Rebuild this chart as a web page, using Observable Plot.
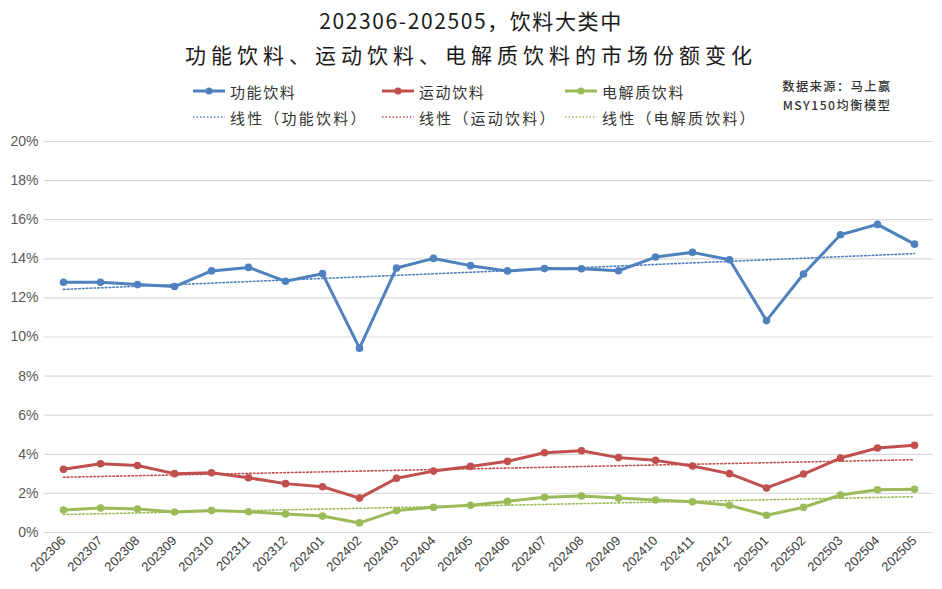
<!DOCTYPE html>
<html>
<head>
<meta charset="utf-8">
<script src="https://cdn.jsdelivr.net/npm/d3@7"></script>
<script src="https://cdn.jsdelivr.net/npm/@observablehq/plot@0.6"></script>
<style>
  html, body { margin: 0; padding: 0; background: #fff; }
  #wrap { width: 942px; height: 589px; position: relative; overflow: hidden; }
  #header { position: relative; width: 942px; height: 128px; font-family: "Noto Sans CJK SC", "Noto Sans", sans-serif; }
  .t { position: absolute; left: 0; width: 942px; text-align: center; color: #1a1a1a; white-space: nowrap; }
  .leg { position: absolute; display: flex; align-items: center; font-size: 15px; letter-spacing: 1.6px; color: #333; white-space: nowrap; height: 20px; }
  .leg svg { margin-right: 5px; }
  .src { position: absolute; width: 130px; text-align: center; font-size: 12.2px; line-height: 18px; height: 18px; font-weight: 500; letter-spacing: 1.5px; color: #333; white-space: nowrap; }
</style>
</head>
<body>
<div id="wrap">
  <div id="header"></div>
  <div id="chart"></div>
</div>
<script>
const months = ["202306","202307","202308","202309","202310","202311","202312","202401","202402","202403","202404","202405",
                "202406","202407","202408","202409","202410","202411","202412","202501","202502","202503","202504","202505"];
const seriesNames = ["功能饮料", "运动饮料", "电解质饮料"];
const seriesColors = ["#4f81bd", "#c0504d", "#9bbb59"];
const functional  = [12.80,12.80,12.68,12.58,13.38,13.56,12.85,13.24,9.43,13.53,14.02,13.65,13.38,13.50,13.49,13.39,14.09,14.33,13.95,10.84,13.22,15.23,15.76,14.75];
const sports      = [3.23,3.52,3.43,3.01,3.06,2.80,2.50,2.34,1.76,2.77,3.14,3.38,3.64,4.08,4.18,3.83,3.69,3.40,3.01,2.28,2.99,3.81,4.32,4.46];
const electrolyte = [1.15,1.25,1.20,1.05,1.12,1.06,0.95,0.84,0.49,1.12,1.29,1.39,1.59,1.80,1.87,1.76,1.66,1.57,1.39,0.88,1.29,1.92,2.19,2.21];
const yTicks = [0,2,4,6,8,10,12,14,16,18,20];
const titleLine1 = "202306-202505，饮料大类中";
const titleLine2 = "功能饮料、运动饮料、电解质饮料的市场份额变化";
const trendPrefix = "线性";
const sourceLines = ["数据来源：马上赢", "MSY150均衡模型"];

const valuesBySeries = [functional, sports, electrolyte];

// header: title, legend, source
const header = document.getElementById("header");
function addDiv(cls, text, style) {
  const d = document.createElement("div");
  d.className = cls; d.textContent = text; Object.assign(d.style, style); header.appendChild(d); return d;
}
addDiv("t", titleLine1, {top: "6px", fontSize: "21px", lineHeight: "28px", letterSpacing: "1.6px"});
addDiv("t", titleLine2, {top: "40px", fontSize: "21px", lineHeight: "28px", letterSpacing: "5px"});

const legendX = [193, 382, 565];
seriesNames.forEach((name, i) => {
  const c = seriesColors[i];
  const r1 = document.createElement("div");
  r1.className = "leg"; r1.style.left = legendX[i] + "px"; r1.style.top = "81px";
  r1.innerHTML = `<svg width="32" height="10"><line x1="0" y1="5" x2="32" y2="5" stroke="${c}" stroke-width="3"/><circle cx="16" cy="5" r="3.6" fill="${c}"/></svg><span>${name}</span>`;
  header.appendChild(r1);
  const r2 = document.createElement("div");
  r2.className = "leg"; r2.style.left = legendX[i] + "px"; r2.style.top = "107px";
  r2.innerHTML = `<svg width="32" height="10"><line x1="0" y1="5" x2="32" y2="5" stroke="${c}" stroke-width="1.5" stroke-dasharray="1.5,2"/></svg><span style="letter-spacing:2.2px">${trendPrefix}（${name}）</span>`;
  header.appendChild(r2);
});
addDiv("src", sourceLines[0], {left: "772px", top: "77px"});
addDiv("src", sourceLines[1], {left: "772px", top: "96px"});

// data tables
const data = [];
const trend = [];
valuesBySeries.forEach((vals, s) => {
  const n = vals.length;
  const xs = d3.range(n);
  const mx = d3.mean(xs), my = d3.mean(vals);
  const slope = d3.sum(xs, (x, k) => (x - mx) * (vals[k] - my)) / d3.sum(xs, x => (x - mx) ** 2);
  const intercept = my - slope * mx;
  vals.forEach((v, k) => {
    data.push({month: months[k], series: seriesNames[s], value: v});
    trend.push({month: months[k], series: seriesNames[s], value: intercept + slope * k});
  });
});

const chart = Plot.plot({
  width: 942,
  height: 461,
  marginTop: 13,
  marginBottom: 57,
  marginLeft: 44,
  marginRight: 9,
  style: {fontFamily: "'Liberation Sans', Arial, sans-serif", background: "#fff"},
  x: {type: "point", domain: months, padding: 0.5, label: null},
  y: {domain: [0, 20], label: null},
  color: {domain: seriesNames, range: seriesColors},
  marks: [
    Plot.ruleY(yTicks, {stroke: "#d9d9d9", strokeWidth: 1.2}),
    Plot.axisY({ticks: yTicks, tickFormat: d => d + "%", tickSize: 0, tickPadding: 6, fontSize: 14, color: "#595959", label: null}),
    Plot.axisX({tickRotate: -45, tickSize: 0, tickPadding: 6, fontSize: 13, color: "#404040", label: null}),
    Plot.line(trend, {x: "month", y: "value", stroke: "series", strokeWidth: 1.6, strokeDasharray: "1.6,2.2"}),
    Plot.line(data, {x: "month", y: "value", stroke: "series", strokeWidth: 3}),
    Plot.dot(data, {x: "month", y: "value", fill: "series", r: 3.8})
  ]
});
document.getElementById("chart").appendChild(chart);
</script>
</body>
</html>
